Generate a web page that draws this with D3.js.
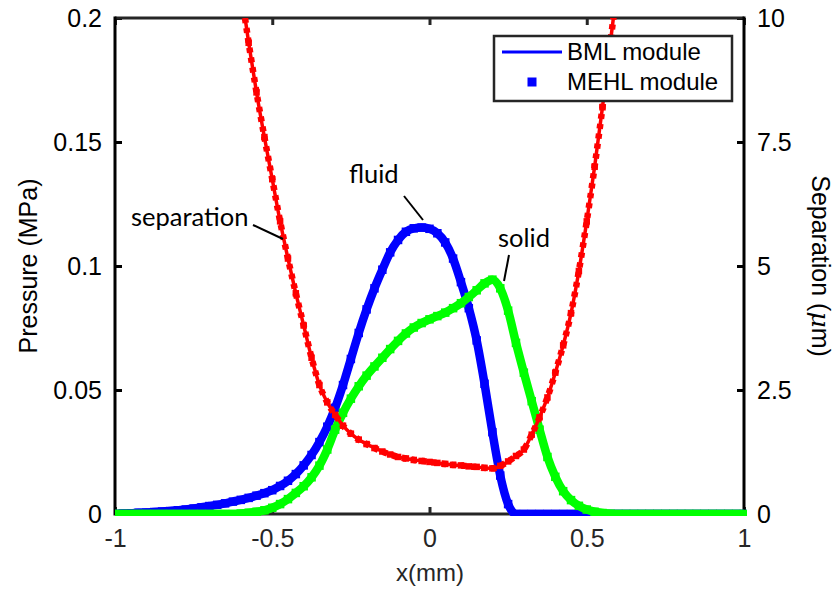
<!DOCTYPE html>
<html>
<head>
<meta charset="utf-8">
<script src="https://cdn.jsdelivr.net/npm/d3@7.9.0/dist/d3.min.js"></script>
<style>
  body { margin: 0; background: #fff; }
  svg { display: block; font-family: "Liberation Sans", Arial, sans-serif; }
</style>
</head>
<body>
<svg id="chart" width="837" height="597"></svg>
<script>
// ---- data ----
// pressure grid, x in mm, step 0.025 from -1 to 1
const xGrid = d3.range(81).map(i => +(-1 + i * 0.025).toFixed(3));

// fluid pressure (MPa), blue
const fluidP = [
  0, 0.0002, 0.0003, 0.0005, 0.0006, 0.0008, 0.0010, 0.0012, 0.0015, 0.0018,
  0.0022, 0.0027, 0.0032, 0.0037, 0.0043, 0.0050, 0.0057, 0.0065, 0.0074, 0.0084,
  0.0096, 0.0113, 0.0134, 0.0161, 0.0196, 0.0238, 0.0290, 0.0352, 0.0428, 0.0520,
  0.0625, 0.0730, 0.0825, 0.0910, 0.0985, 0.1055, 0.1105, 0.1138, 0.1152, 0.1155,
  0.1150, 0.1132, 0.1095, 0.1030, 0.0935, 0.0830, 0.0700, 0.0525, 0.0330, 0.0155,
  0.0040, 0, 0, 0, 0, 0, 0, 0, 0, 0,
  0, 0, 0, 0, 0, 0, 0, 0, 0, 0,
  0, 0, 0, 0, 0, 0, 0, 0, 0, 0, 0
];

// solid pressure (MPa), green
const solidP = [
  0, 0, 0, 0, 0, 0, 0, 0, 0, 0,
  0, 0, 0, 0, 0, 0, 0.0002, 0.0005, 0.0009, 0.0015,
  0.0025, 0.0040, 0.0060, 0.0085, 0.0112, 0.0148, 0.0195, 0.0260, 0.0340, 0.0408,
  0.0465, 0.0515, 0.0558, 0.0595, 0.0630, 0.0665, 0.0698, 0.0728, 0.0752, 0.0770,
  0.0785, 0.0798, 0.0812, 0.0830, 0.0850, 0.0875, 0.0902, 0.0930, 0.0945, 0.0910,
  0.0820, 0.0690, 0.0570, 0.0455, 0.0340, 0.0230, 0.0150, 0.0092, 0.0056, 0.0033,
  0.0018, 0.0009, 0.0004, 0.0001, 0, 0, 0, 0, 0, 0,
  0, 0, 0, 0, 0, 0, 0, 0, 0, 0, 0
];

// separation grid and values (um), red
const xSep = d3.range(51).map(i => +(-0.625 + i * 0.025).toFixed(3));
const separation = [
  11.8, 10.6, 9.5, 8.5, 7.6, 6.75, 5.9, 5.15, 4.45, 3.8,
  3.15, 2.6, 2.25, 2.0, 1.78, 1.62, 1.5, 1.41, 1.33, 1.26,
  1.2, 1.15, 1.12, 1.09, 1.07, 1.05, 1.03, 1.01, 0.99, 0.98,
  0.96, 0.95, 0.93, 0.92, 0.97, 1.06, 1.17, 1.3, 1.6, 1.95,
  2.35, 2.85, 3.4, 4.05, 4.9, 5.9, 7.0, 8.2, 9.5, 10.8, 12.2
];

const xTicks = [-1, -0.5, 0, 0.5, 1];
const xTickLabels = ["-1", "-0.5", "0", "0.5", "1"];
const pTicks = [0, 0.05, 0.1, 0.15, 0.2];
const pTickLabels = ["0", "0.05", "0.1", "0.15", "0.2"];
const sTicks = [0, 2.5, 5, 7.5, 10];
const sTickLabels = ["0", "2.5", "5", "7.5", "10"];

const legendNames = ["BML module", "MEHL module"];

// ---- layout ----
const plotL = 115, plotR = 744, plotT = 18, plotB = 514;

const svg = d3.select("#chart");
svg.append("rect").attr("width", 837).attr("height", 597).attr("fill", "#fff");

const x = d3.scaleLinear().domain([-1, 1]).range([plotL, plotR]);
const yP = d3.scaleLinear().domain([0, 0.2]).range([plotB, plotT]);
const yS = d3.scaleLinear().domain([0, 10]).range([plotB, plotT]);

// axes
const axStyle = (g, color) => {
  g.select(".domain").remove();
  g.selectAll(".tick line").attr("stroke", color).attr("stroke-width", 3);
  g.selectAll(".tick text").attr("fill", color).attr("font-size", 25)
    .attr("font-family", "Liberation Sans, Arial, sans-serif");
};

svg.append("g").attr("transform", `translate(0,${plotB})`)
  .call(d3.axisBottom(x).tickValues(xTicks).tickFormat((d, i) => xTickLabels[i]).tickSize(-7).tickPadding(15))
  .call(g => axStyle(g, "#262626"));
svg.append("g").attr("transform", `translate(0,${plotT})`)
  .call(d3.axisTop(x).tickValues(xTicks).tickFormat("").tickSize(-7))
  .call(g => axStyle(g, "#262626"));
svg.append("g").attr("transform", `translate(${plotL},0)`)
  .call(d3.axisLeft(yP).tickValues(pTicks).tickFormat((d, i) => pTickLabels[i]).tickSize(-7).tickPadding(13))
  .call(g => axStyle(g, "#000"));
svg.append("g").attr("transform", `translate(${plotR},0)`)
  .call(d3.axisRight(yS).tickValues(sTicks).tickFormat((d, i) => sTickLabels[i]).tickSize(-7).tickPadding(13))
  .call(g => axStyle(g, "#000"));

// box
svg.append("line").attr("x1", plotL).attr("x2", plotR).attr("y1", plotT).attr("y2", plotT)
  .attr("stroke", "#262626").attr("stroke-width", 3);
svg.append("line").attr("x1", plotL).attr("x2", plotR).attr("y1", plotB).attr("y2", plotB)
  .attr("stroke", "#262626").attr("stroke-width", 3);
svg.append("line").attr("x1", plotL).attr("x2", plotL).attr("y1", plotT - 1.5).attr("y2", plotB + 1.5)
  .attr("stroke", "#000").attr("stroke-width", 3);
svg.append("line").attr("x1", plotR).attr("x2", plotR).attr("y1", plotT - 1.5).attr("y2", plotB + 1.5)
  .attr("stroke", "#000").attr("stroke-width", 3);

// axis titles
svg.append("text").attr("x", 430).attr("y", 581).attr("text-anchor", "middle")
  .attr("font-size", 24).attr("fill", "#262626").text("x(mm)");
svg.append("text").attr("transform", "translate(37,266) rotate(-90)").attr("text-anchor", "middle")
  .attr("font-size", 25).attr("fill", "#000").text("Pressure (MPa)");
const sepLabel = svg.append("text").attr("transform", "translate(812,266) rotate(90)")
  .attr("text-anchor", "middle").attr("font-size", 25).attr("fill", "#000");
sepLabel.append("tspan").text("Separation (");
sepLabel.append("tspan").attr("font-family", "DejaVu Serif, serif").attr("font-style", "italic").text("μ");
sepLabel.append("tspan").text("m)");

// plot area
svg.append("clipPath").attr("id", "plotClip")
  .append("rect").attr("x", plotL).attr("y", plotT).attr("width", plotR - plotL + 3).attr("height", plotB - plotT + 2);
const plot = svg.append("g").attr("clip-path", "url(#plotClip)");

const lineP = d3.line().x(d => x(d[0])).y(d => yP(d[1])).curve(d3.curveMonotoneX);
const lineS = d3.line().x(d => x(d[0])).y(d => yS(d[1])).curve(d3.curveMonotoneX);

const fluidPts = xGrid.map((v, i) => [v, fluidP[i]]);
const solidPts = xGrid.map((v, i) => [v, solidP[i]]);
const sepPts = xSep.map((v, i) => [v, separation[i]]);

function pressureCurve(pts, color) {
  // MEHL markers are dense enough to merge into a band
  plot.append("path").datum(pts).attr("d", lineP).attr("fill", "none")
    .attr("stroke", color).attr("stroke-width", 8.5);
  plot.append("g").selectAll("rect").data(pts).join("rect")
    .attr("x", d => x(d[0]) - 4.25).attr("y", d => yP(d[1]) - 4.25)
    .attr("width", 8.5).attr("height", 8.5).attr("fill", color);
  // BML line
  plot.append("path").datum(pts).attr("d", lineP).attr("fill", "none")
    .attr("stroke", color).attr("stroke-width", 3);
}
pressureCurve(fluidPts, "#0000ff");
pressureCurve(solidPts, "#00ff00");

// separation: line + small square markers
plot.append("path").datum(sepPts).attr("d", lineS).attr("fill", "none")
  .attr("stroke", "#ff0000").attr("stroke-width", 3.5);
plot.append("path").datum(sepPts).attr("d", lineS).attr("fill", "none")
  .attr("stroke", "#ff0000").attr("stroke-width", 6.5).attr("stroke-dasharray", "5 5");
plot.append("g").selectAll("rect").data(sepPts).join("rect")
  .attr("x", d => x(d[0]) - 3.25).attr("y", d => yS(d[1]) - 3.25)
  .attr("width", 6.5).attr("height", 6.5).attr("fill", "#ff0000");

// annotations
const annFont = "Lato, 'Open Sans', sans-serif";
const notes = [
  { text: "separation", tx: 131, ty: 226, x1: 253, y1: 225, x2: 283, y2: 239 },
  { text: "fluid", tx: 349, ty: 183, x1: 404, y1: 196, x2: 423, y2: 220 },
  { text: "solid", tx: 498, ty: 247, x1: 509, y1: 255, x2: 504, y2: 281 }
];
notes.forEach(n => {
  svg.append("text").attr("x", n.tx).attr("y", n.ty).attr("font-family", annFont)
    .attr("font-size", 25.5).attr("fill", "#000").text(n.text);
  svg.append("line").attr("x1", n.x1).attr("y1", n.y1).attr("x2", n.x2).attr("y2", n.y2)
    .attr("stroke", "#000").attr("stroke-width", 2);
});

// legend
const lg = svg.append("g");
lg.append("rect").attr("x", 494).attr("y", 36).attr("width", 238).attr("height", 65)
  .attr("fill", "#fff").attr("stroke", "#262626").attr("stroke-width", 2.5);
lg.append("line").attr("x1", 502).attr("x2", 562).attr("y1", 52).attr("y2", 52)
  .attr("stroke", "#0000ff").attr("stroke-width", 3);
lg.append("rect").attr("x", 532 - 4.5).attr("y", 82 - 4.5).attr("width", 9).attr("height", 9)
  .attr("fill", "#0000ff");
lg.selectAll("text.lbl").data(legendNames).join("text").attr("class", "lbl")
  .attr("x", 567).attr("y", (d, i) => 60 + i * 30).attr("font-size", 24).attr("fill", "#000")
  .text(d => d);
</script>
</body>
</html>
